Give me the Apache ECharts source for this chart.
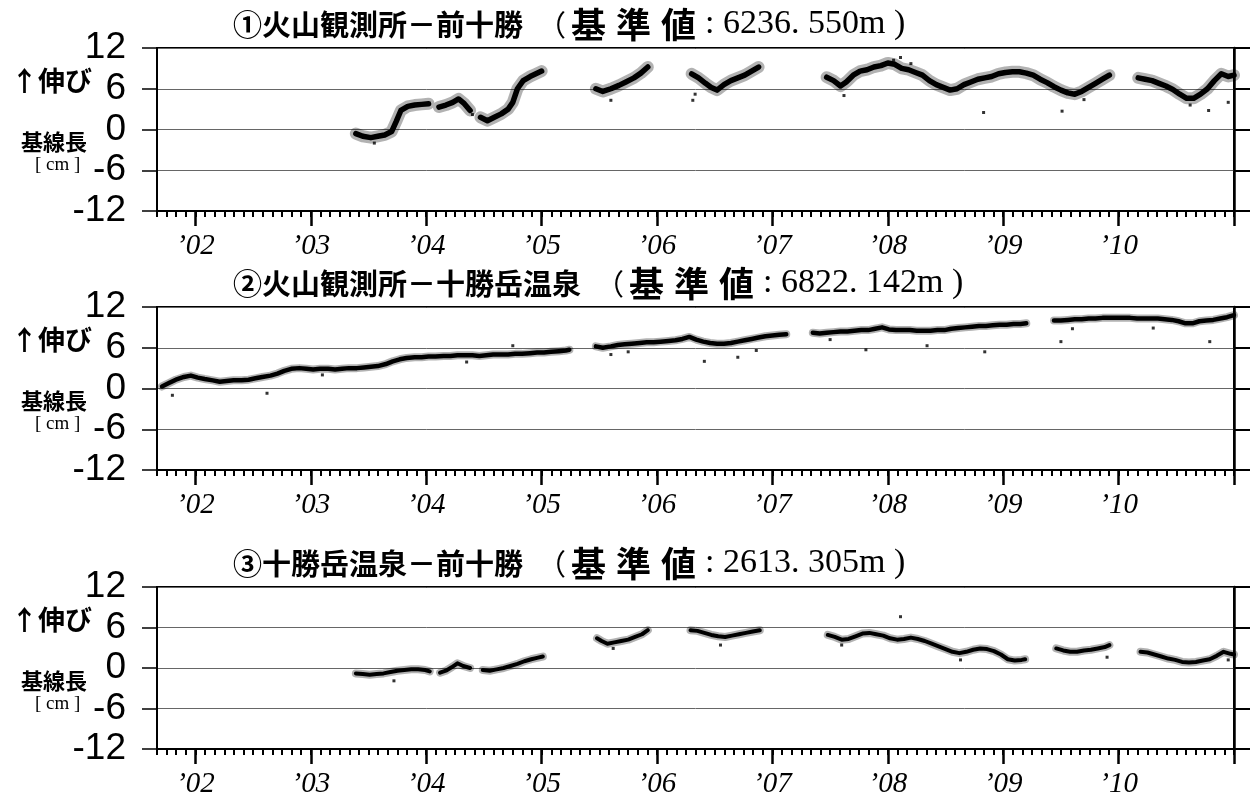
<!DOCTYPE html>
<html>
<head>
<meta charset="utf-8">
<script src="https://cdn.jsdelivr.net/npm/echarts@6/dist/echarts.min.js"></script>
<style>
html,body{margin:0;padding:0;background:#fff;}
#chart{width:1250px;height:799px;}
</style>
</head>
<body>
<div id="chart"></div>
<script>
// ---------- axis settings ----------
const xMin = 2001 + 8 / 12;
const xMax = 2011;
const yearTicks = [2002, 2003, 2004, 2005, 2006, 2007, 2008, 2009, 2010, 2011];
const yearLabels = [2002, 2003, 2004, 2005, 2006, 2007, 2008, 2009, 2010];
const yTicks = [-12, -6, 0, 6, 12];

// ---------- titles ----------
const titleNames = ['①火山観測所－前十勝', '②火山観測所－十勝岳温泉', '③十勝岳温泉－前十勝'];
const baseValues = ['6236. 550m', '6822. 142m', '2613. 305m'];

// ---------- data (decimal year, cm); null breaks a gap ----------
const p1Series = [
  [2003.39,-0.6],[2003.45,-1.0],[2003.52,-1.2],[2003.58,-1.0],[2003.64,-0.8],[2003.70,-0.3],[2003.74,1.2],[2003.78,2.8],[2003.84,3.4],[2003.90,3.6],[2003.96,3.7],[2004.02,3.8],[2004.06,null],
  [2004.11,3.3],[2004.17,3.6],[2004.23,4.0],[2004.28,4.5],[2004.33,3.8],[2004.38,2.8],[2004.42,null],
  [2004.47,1.8],[2004.53,1.3],[2004.59,1.8],[2004.65,2.3],[2004.71,3.0],[2004.75,4.0],[2004.79,6.0],[2004.84,7.2],[2004.90,7.8],[2004.95,8.2],[2005.00,8.6],[2005.2,null],
  [2005.47,6.0],[2005.53,5.6],[2005.60,6.0],[2005.67,6.5],[2005.73,7.0],[2005.80,7.6],[2005.86,8.3],[2005.92,9.2],[2006.1,null],
  [2006.30,8.2],[2006.36,7.6],[2006.42,6.8],[2006.47,6.2],[2006.52,5.8],[2006.58,6.6],[2006.64,7.2],[2006.70,7.6],[2006.76,8.0],[2006.82,8.6],[2006.88,9.2],[2007.2,null],
  [2007.47,7.7],[2007.53,7.2],[2007.59,6.4],[2007.64,7.0],[2007.70,8.0],[2007.76,8.6],[2007.82,8.8],[2007.88,9.2],[2007.94,9.4],[2008.00,9.8],[2008.06,9.6],[2008.12,9.0],[2008.18,8.8],[2008.24,8.4],[2008.30,8.0],[2008.36,7.2],[2008.42,6.6],[2008.48,6.2],[2008.54,5.8],[2008.60,6.0],[2008.66,6.6],[2008.72,7.0],[2008.78,7.4],[2008.84,7.6],[2008.90,7.8],[2008.96,8.2],[2009.02,8.4],[2009.08,8.5],[2009.14,8.5],[2009.20,8.3],[2009.26,8.0],[2009.32,7.4],[2009.38,6.9],[2009.44,6.3],[2009.50,5.8],[2009.56,5.4],[2009.62,5.2],[2009.68,5.6],[2009.74,6.2],[2009.80,6.8],[2009.86,7.4],[2009.92,8.0],[2010.05,null],
  [2010.17,7.6],[2010.23,7.4],[2010.29,7.2],[2010.35,6.8],[2010.41,6.4],[2010.47,5.9],[2010.53,5.2],[2010.59,4.6],[2010.65,4.6],[2010.71,5.2],[2010.77,6.0],[2010.83,7.2],[2010.89,8.2],[2010.95,7.8],[2011.0,8.0]
];
const p1Outliers = [[2008.83,2.5],[2009.51,2.7],[2010.78,2.8],[2010.95,4.0],[2006.31,4.3],[2005.60,4.3],[2008.11,10.6],[2003.55,-2.0],[2004.40,2.2],[2006.33,5.2],[2007.62,5.0],[2008.05,10.2],[2008.20,9.7],[2009.70,4.4],[2010.62,3.6]];

const p2Series = [
  [2001.71,0.3],[2001.77,0.8],[2001.83,1.3],[2001.90,1.7],[2001.96,1.9],[2002.02,1.6],[2002.08,1.4],[2002.15,1.2],[2002.21,1.0],[2002.27,1.1],[2002.33,1.2],[2002.40,1.2],[2002.46,1.3],[2002.52,1.5],[2002.58,1.7],[2002.65,1.9],[2002.71,2.2],[2002.77,2.6],[2002.83,2.9],[2002.90,3.0],[2002.96,2.9],[2003.02,2.8],[2003.08,2.9],[2003.15,2.9],[2003.21,2.8],[2003.27,2.9],[2003.33,3.0],[2003.40,3.0],[2003.46,3.1],[2003.52,3.2],[2003.58,3.3],[2003.65,3.6],[2003.71,4.0],[2003.77,4.3],[2003.83,4.5],[2003.90,4.6],[2003.96,4.6],[2004.02,4.7],[2004.08,4.7],[2004.15,4.8],[2004.21,4.8],[2004.27,4.9],[2004.33,4.9],[2004.40,4.9],[2004.46,4.8],[2004.52,4.9],[2004.58,5.0],[2004.65,5.0],[2004.71,5.0],[2004.77,5.1],[2004.83,5.1],[2004.90,5.2],[2004.96,5.3],[2005.02,5.3],[2005.08,5.4],[2005.15,5.5],[2005.21,5.6],[2005.24,5.7],[2005.35,null],
  [2005.47,6.2],[2005.53,6.0],[2005.60,6.2],[2005.66,6.4],[2005.72,6.5],[2005.78,6.6],[2005.85,6.7],[2005.91,6.8],[2005.97,6.8],[2006.03,6.9],[2006.10,7.0],[2006.16,7.1],[2006.22,7.3],[2006.28,7.6],[2006.34,7.2],[2006.40,6.9],[2006.46,6.7],[2006.52,6.6],[2006.58,6.6],[2006.64,6.7],[2006.70,6.9],[2006.76,7.1],[2006.82,7.3],[2006.88,7.5],[2006.94,7.7],[2007.00,7.8],[2007.06,7.9],[2007.12,8.0],[2007.25,null],
  [2007.35,8.2],[2007.41,8.1],[2007.47,8.2],[2007.53,8.3],[2007.59,8.4],[2007.65,8.4],[2007.71,8.5],[2007.77,8.6],[2007.83,8.6],[2007.89,8.8],[2007.95,9.0],[2008.01,8.7],[2008.07,8.6],[2008.13,8.6],[2008.19,8.6],[2008.25,8.5],[2008.31,8.5],[2008.37,8.5],[2008.43,8.6],[2008.49,8.6],[2008.55,8.8],[2008.61,8.9],[2008.67,9.0],[2008.73,9.1],[2008.79,9.2],[2008.85,9.2],[2008.91,9.3],[2008.97,9.4],[2009.03,9.4],[2009.09,9.5],[2009.15,9.5],[2009.20,9.6],[2009.30,null],
  [2009.44,10.0],[2009.50,10.0],[2009.56,10.1],[2009.62,10.2],[2009.68,10.2],[2009.74,10.3],[2009.80,10.3],[2009.86,10.4],[2009.92,10.4],[2009.98,10.4],[2010.04,10.4],[2010.10,10.4],[2010.16,10.3],[2010.22,10.3],[2010.28,10.3],[2010.34,10.3],[2010.40,10.2],[2010.46,10.1],[2010.52,9.9],[2010.58,9.6],[2010.64,9.6],[2010.70,9.9],[2010.76,10.0],[2010.82,10.1],[2010.88,10.3],[2010.94,10.5],[2011.0,10.8]
];
const p2Outliers = [[2006.41,4.0],[2006.70,4.6],[2006.86,5.6],[2007.81,5.7],[2008.84,5.4],[2008.34,6.3],[2009.50,6.9],[2010.79,6.9],[2001.80,-1.0],[2002.62,-0.7],[2004.75,6.3],[2005.60,5.0],[2005.75,5.4],[2003.10,2.0],[2004.35,3.9],[2007.50,7.2],[2009.60,8.8],[2010.30,8.9]];

const p3Series = [
  [2003.39,-0.8],[2003.45,-0.9],[2003.51,-1.0],[2003.57,-0.9],[2003.63,-0.8],[2003.69,-0.6],[2003.75,-0.4],[2003.81,-0.3],[2003.87,-0.2],[2003.93,-0.2],[2003.99,-0.3],[2004.03,-0.5],[2004.07,null],
  [2004.12,-0.7],[2004.17,-0.4],[2004.22,0.1],[2004.27,0.7],[2004.32,0.3],[2004.38,0.0],[2004.43,null],
  [2004.49,-0.3],[2004.55,-0.4],[2004.61,-0.2],[2004.67,0.0],[2004.73,0.3],[2004.79,0.6],[2004.85,1.0],[2004.91,1.3],[2004.96,1.5],[2005.01,1.7],[2005.2,null],
  [2005.48,4.4],[2005.52,4.0],[2005.57,3.6],[2005.63,3.8],[2005.69,4.0],[2005.75,4.2],[2005.81,4.6],[2005.87,5.0],[2005.92,5.6],[2006.1,null],
  [2006.29,5.6],[2006.35,5.5],[2006.41,5.2],[2006.47,4.9],[2006.53,4.7],[2006.59,4.6],[2006.65,4.8],[2006.71,5.0],[2006.77,5.2],[2006.83,5.4],[2006.89,5.6],[2007.2,null],
  [2007.48,4.9],[2007.54,4.6],[2007.60,4.2],[2007.66,4.3],[2007.72,4.7],[2007.78,5.1],[2007.84,5.2],[2007.90,5.0],[2007.96,4.8],[2008.02,4.4],[2008.08,4.2],[2008.14,4.3],[2008.20,4.5],[2008.26,4.3],[2008.32,4.0],[2008.38,3.6],[2008.44,3.2],[2008.50,2.8],[2008.56,2.4],[2008.62,2.2],[2008.68,2.4],[2008.74,2.7],[2008.80,2.9],[2008.86,2.8],[2008.92,2.5],[2008.98,2.0],[2009.04,1.3],[2009.10,1.1],[2009.16,1.2],[2009.19,1.3],[2009.3,null],
  [2009.46,2.9],[2009.52,2.6],[2009.58,2.4],[2009.64,2.4],[2009.70,2.6],[2009.76,2.7],[2009.82,2.9],[2009.88,3.1],[2009.92,3.4],[2010.05,null],
  [2010.19,2.4],[2010.25,2.3],[2010.31,2.0],[2010.37,1.7],[2010.43,1.4],[2010.49,1.2],[2010.55,0.9],[2010.61,0.8],[2010.67,0.9],[2010.73,1.1],[2010.79,1.3],[2010.85,1.8],[2010.91,2.4],[2010.97,2.1],[2011.0,2.0]
];
const p3Outliers = [[2008.11,7.6],[2003.72,-1.9],[2005.62,2.9],[2006.55,3.4],[2008.63,1.2],[2007.60,3.4],[2009.90,1.6],[2010.95,1.2]];

const panelData = [p1Series, p2Series, p3Series];
const panelOutliers = [p1Outliers, p2Outliers, p3Outliers];
const coreWidths = [5.5, 4.5, 4];
const haloWidths = [12, 8, 8];

// ---------- layout ----------
const gridTops = [48, 307, 587];
const gridHeight = 163;
const monthTicks = [];
for (let m = 0; m <= 112; m++) monthTicks.push(xMin + m / 12);

const jpFont = '"Noto Sans CJK JP", "Noto Sans CJK SC", sans-serif';
const serif = '"Liberation Serif", "DejaVu Serif", serif';
const sans = '"Liberation Sans", Arial, sans-serif';

const grids = [], xAxes = [], yAxes = [], series = [], titles = [];
gridTops.forEach((top, k) => {
  grids.push({left: 157, right: 16, top: top, height: gridHeight, show: true,
    borderColor: '#000', borderWidth: 2, backgroundColor: 'transparent', containLabel: false});
  // major (year) ticks + labels
  xAxes.push({type: 'value', gridIndex: k, min: xMin, max: xMax, position: 'bottom',
    axisLine: {show: true, onZero: false, lineStyle: {color: '#000', width: 2}},
    axisTick: {show: true, length: 15, customValues: yearTicks, lineStyle: {color: '#000', width: 2.5}},
    axisLabel: {show: true, customValues: yearLabels, margin: 21, fontFamily: serif, fontStyle: 'italic',
      fontSize: 29, color: '#000', formatter: v => '\u2019' + String(Math.round(v)).slice(2)},
    splitLine: {show: false}});
  // minor (month) ticks
  xAxes.push({type: 'value', gridIndex: k, min: xMin, max: xMax, position: 'bottom',
    axisLine: {show: false, onZero: false},
    axisTick: {show: true, length: 6, customValues: monthTicks, lineStyle: {color: '#000', width: 2}},
    axisLabel: {show: false}, splitLine: {show: false}});
  yAxes.push({type: 'value', gridIndex: k, min: -12, max: 12, interval: 6, position: 'left',
    axisLine: {show: true, lineStyle: {color: '#000', width: 2}},
    axisTick: {show: true, length: 15, lineStyle: {color: '#000', width: 1.5}},
    axisLabel: {show: true, margin: 31, fontFamily: sans, fontSize: 37, color: '#000'},
    splitLine: {show: true, lineStyle: {color: '#666', width: 1}}});
  yAxes.push({type: 'value', gridIndex: k, min: -12, max: 12, interval: 6, position: 'right',
    axisLine: {show: true, lineStyle: {color: '#000', width: 2.5}},
    axisTick: {show: true, length: 20, lineStyle: {color: '#000', width: 2}},
    axisLabel: {show: false}, splitLine: {show: false}});
  series.push({type: 'line', xAxisIndex: 2 * k, yAxisIndex: 2 * k, data: panelData[k],
    showSymbol: false, connectNulls: false, silent: true, animation: false, z: 2,
    lineStyle: {color: 'rgba(0,0,0,0.3)', width: haloWidths[k], cap: 'round', join: 'round'}});
  series.push({type: 'line', xAxisIndex: 2 * k, yAxisIndex: 2 * k, data: panelData[k],
    showSymbol: false, connectNulls: false, silent: true, animation: false, z: 3,
    lineStyle: {color: '#000', width: coreWidths[k], cap: 'round', join: 'round'}});
  series.push({type: 'scatter', xAxisIndex: 2 * k, yAxisIndex: 2 * k, data: panelOutliers[k],
    symbol: 'rect', symbolSize: 3, silent: true, animation: false, z: 4, itemStyle: {color: '#000'}});

  titles.push({left: 228, top: top - 46,
    text: '{a|' + titleNames[k] + '}{b|（}{k|基}{k|準}{k|値}{c|: ' + baseValues[k] + ' )}',
    textStyle: {fontWeight: 'normal', rich: {
      a: {fontFamily: jpFont, fontWeight: 'bold', fontSize: 29, color: '#000'},
      b: {fontFamily: jpFont, fontWeight: 'normal', fontSize: 29, color: '#000', padding: [0, 0, 0, 14]},
      k: {fontFamily: jpFont, fontWeight: 'bold', fontSize: 35, color: '#000', padding: [0, 5, 0, 5]},
      c: {fontFamily: serif, fontWeight: 'normal', fontSize: 34, color: '#000', padding: [0, 0, 0, 4]}
    }}});
  titles.push({left: 6, top: top + 14, text: '↑伸び',
    textStyle: {fontFamily: jpFont, fontWeight: 'bold', fontSize: 27, color: '#000'}});
  titles.push({left: 16, top: top + 78, text: '基線長',
    textStyle: {fontFamily: jpFont, fontWeight: 'bold', fontSize: 22, color: '#000'}});
  titles.push({left: 30, top: top + 103, text: '[ cm ]',
    textStyle: {fontFamily: serif, fontWeight: 'normal', fontSize: 19, color: '#000'}});
});

const chart = echarts.init(document.getElementById('chart'), null, {renderer: 'canvas'});
chart.setOption({
  animation: false,
  backgroundColor: '#fff',
  title: titles,
  grid: grids,
  xAxis: xAxes,
  yAxis: yAxes,
  series: series
});
</script>
</body>
</html>
